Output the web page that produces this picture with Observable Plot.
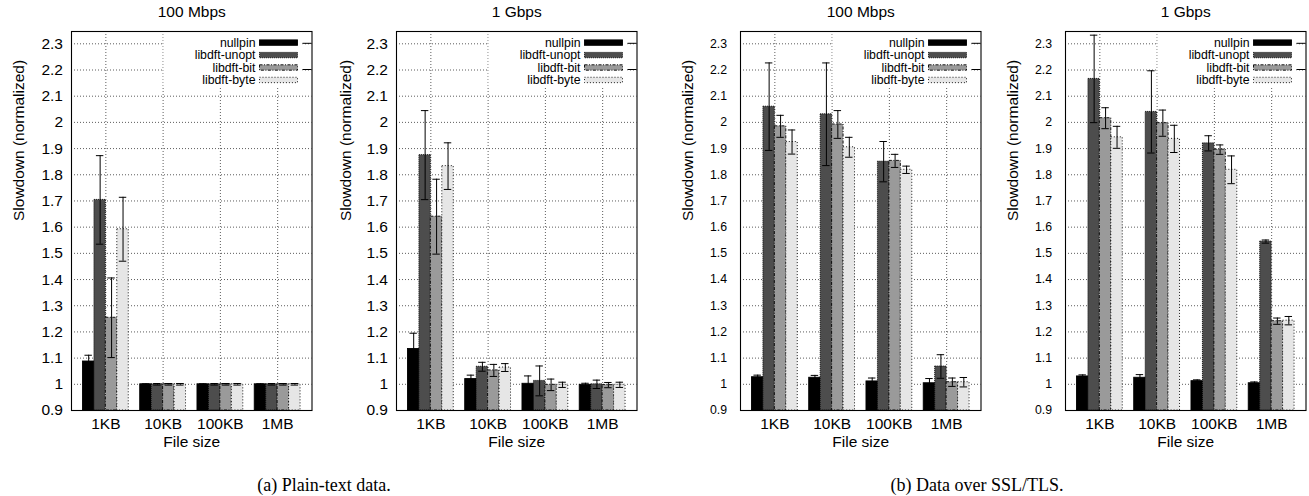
<!DOCTYPE html>
<html><head><meta charset="utf-8">
<script src="https://cdn.jsdelivr.net/npm/d3@7"></script>
<script src="https://cdn.jsdelivr.net/npm/@observablehq/plot@0.6"></script>
<style>
body{margin:0;background:#fff;width:1309px;height:496px;position:relative;overflow:hidden;font-family:"Liberation Sans",Arial,sans-serif;}
.panel{position:absolute;top:0;}
.caption{position:absolute;font-family:"Liberation Serif","Times New Roman",serif;font-size:18px;transform:translate(-50%,-50%);white-space:nowrap;color:#000;}
</style></head><body>
<div id="root"></div>
<script>
// ---- data ----
const fileSizes = ["1KB", "10KB", "100KB", "1MB"];
const seriesNames = ["nullpin", "libdft-unopt", "libdft-bit", "libdft-byte"];
const panelTitles = ["100 Mbps", "1 Gbps", "100 Mbps", "1 Gbps"];
const captions = ["(a) Plain-text data.", "(b) Data over SSL/TLS."];
const yTicks = [0.9, 1.0, 1.1, 1.2, 1.3, 1.4, 1.5, 1.6, 1.7, 1.8, 1.9, 2.0, 2.1, 2.2, 2.3];
const yLabel = "Slowdown (normalized)";
const xLabel = "File size";

// rows = series (nullpin, unopt, bit, byte), columns = file sizes
const plain100Mean = [
  [1.087, 1.000, 1.000, 1.000],
  [1.704, 1.000, 1.000, 1.000],
  [1.254, 1.000, 1.000, 1.000],
  [1.592, 1.000, 1.000, 1.000]
];
const plain100Err = [
  [0.024, 0.002, 0.002, 0.002],
  [0.169, 0.003, 0.003, 0.003],
  [0.152, 0.003, 0.003, 0.003],
  [0.122, 0.003, 0.003, 0.003]
];
const plain1gMean = [
  [1.135, 1.020, 1.002, 0.998],
  [1.875, 1.067, 1.013, 1.000],
  [1.640, 1.053, 0.998, 0.997],
  [1.833, 1.064, 0.998, 0.998]
];
const plain1gErr = [
  [0.060, 0.015, 0.030, 0.006],
  [0.170, 0.017, 0.057, 0.016],
  [0.143, 0.023, 0.022, 0.010],
  [0.089, 0.015, 0.010, 0.010]
];
const ssl100Mean = [
  [1.027, 1.025, 1.011, 1.004],
  [2.060, 2.031, 1.850, 1.068],
  [1.985, 1.992, 1.853, 1.008],
  [1.925, 1.905, 1.819, 1.008]
];
const ssl100Err = [
  [0.008, 0.009, 0.013, 0.018],
  [0.167, 0.196, 0.077, 0.045],
  [0.042, 0.053, 0.025, 0.016],
  [0.046, 0.038, 0.014, 0.018]
];
const ssl1gMean = [
  [1.030, 1.025, 1.012, 1.004],
  [2.166, 2.040, 1.920, 1.545],
  [2.016, 1.997, 1.896, 1.241],
  [1.943, 1.937, 1.819, 1.243]
];
const ssl1gErr = [
  [0.006, 0.012, 0.005, 0.005],
  [0.167, 0.157, 0.029, 0.006],
  [0.040, 0.050, 0.018, 0.012],
  [0.042, 0.052, 0.053, 0.016]
];

// ---- styles / layout ----
const seriesFill = ["#000000", "#4d4d4d", "#9a9a9a", "#e6e6e6"];
const seriesDash = [null, "1,1", "3,1.5,1,1.5", "1,2"];
const yDomain = [0.9, 2.347];
const xDomain = [-0.6, 3.6];
const barWidth = 0.2;
const capHalf = 0.065;
const MT = 31, MB = 46, ML = 70, MR = 3, FW = 240.5, FH = 379;
const FONT = "Liberation Sans, Arial, Helvetica, sans-serif";

const root = document.getElementById("root");

function drawPanel(means, errs, title, frameLeft, yTickFont, yTickPad, yLabelDx) {
  const rows = [];
  seriesNames.forEach((s, j) => fileSizes.forEach((f, i) =>
    rows.push({s, j, i, v: means[j][i], e: errs[j][i]})));
  const bx = d => d.i + (d.j - 2) * barWidth;
  const cx = d => bx(d) + barWidth / 2;

  const marks = [
    Plot.ruleY(yTicks, {stroke: "#333", strokeWidth: 0.8, strokeDasharray: "1,2"}),
    Plot.ruleX([0, 1, 2, 3], {stroke: "#333", strokeWidth: 0.8, strokeDasharray: "1,2"})
  ];
  seriesNames.forEach((s, j) => {
    marks.push(Plot.rect(rows.filter(d => d.j === j), {
      x1: bx, x2: d => bx(d) + barWidth,
      y1: () => yDomain[0], y2: "v",
      fill: seriesFill[j], stroke: "#000", strokeWidth: 0.9,
      strokeDasharray: seriesDash[j]
    }));
  });
  marks.push(
    Plot.ruleX(rows, {x: cx, y1: d => d.v - d.e, y2: d => d.v + d.e, stroke: "#000", strokeWidth: 1}),
    Plot.ruleY(rows, {y: d => d.v + d.e, x1: d => cx(d) - capHalf, x2: d => cx(d) + capHalf, stroke: "#000", strokeWidth: 1}),
    Plot.ruleY(rows, {y: d => d.v - d.e, x1: d => cx(d) - capHalf, x2: d => cx(d) + capHalf, stroke: "#000", strokeWidth: 1}),
    Plot.frame({stroke: "#000", strokeWidth: 1.1}),
    Plot.axisY({ticks: yTicks, tickSize: 0, tickPadding: yTickPad, fontSize: yTickFont,
      tickFormat: d => String(+d.toFixed(1)), label: null}),
    Plot.axisX({ticks: [0, 1, 2, 3], tickSize: 0, tickPadding: 7.5, fontSize: 15.5,
      tickFormat: i => fileSizes[i], label: null}),
    Plot.text([title], {text: d => d, frameAnchor: "top", dy: -19, fontSize: 15.5, lineAnchor: "middle"}),
    Plot.text([xLabel], {text: d => d, frameAnchor: "bottom", dy: 32, fontSize: 15.5, lineAnchor: "middle"}),
    Plot.text([yLabel], {text: d => d, frameAnchor: "left", rotate: -90, dx: yLabelDx, fontSize: 15.5})
  );

  const plot = Plot.plot({
    width: ML + FW + MR, height: MT + FH + MB,
    marginLeft: ML, marginRight: MR, marginTop: MT, marginBottom: MB,
    x: {domain: xDomain, axis: null},
    y: {domain: yDomain, axis: null},
    style: {fontFamily: FONT, fontSize: "15.5px", color: "#000", background: "white", overflow: "visible"},
    marks
  });

  // legend (key box, gnuplot style, top-right inside the frame)
  const svg = d3.select(plot);
  const ys = plot.scale("y");
  const fr = ML + FW;
  const g = svg.append("g");
  const boxTop = MT + 3, boxBot = MT + 55, boxL = fr - 148, boxR = fr - 9;
  g.append("rect").attr("x", boxL).attr("y", boxTop).attr("width", boxR - boxL).attr("height", boxBot - boxTop).attr("fill", "white");
  yTicks.forEach(t => {
    const py = ys.apply(t);
    if (py >= boxTop && py <= boxBot) {
      g.append("line").attr("x1", fr - 9).attr("x2", fr).attr("y1", py).attr("y2", py).attr("stroke", "#000").attr("stroke-width", 1);
    }
  });
  seriesNames.forEach((s, j) => {
    const y = MT + 11.6 + j * 12.45;
    g.append("text").attr("x", fr - 56).attr("y", y).attr("text-anchor", "end")
      .attr("dy", "0.35em").attr("font-size", 12.3).attr("font-family", FONT).attr("fill", "#000").text(s);
    g.append("rect").attr("x", fr - 52).attr("y", y - 2.7).attr("width", 38).attr("height", 5.4)
      .attr("fill", seriesFill[j]).attr("stroke", "#000").attr("stroke-width", 0.9)
      .attr("stroke-dasharray", seriesDash[j]);
  });

  const div = document.createElement("div");
  div.className = "panel";
  div.style.left = (frameLeft - ML) + "px";
  div.appendChild(plot);
  root.appendChild(div);
}

drawPanel(plain100Mean, plain100Err, panelTitles[0], 70.7, 15.5, 8.5, -52.5);
drawPanel(plain1gMean, plain1gErr, panelTitles[1], 395.8, 15.5, 8.5, -50.5);
drawPanel(ssl100Mean, ssl100Err, panelTitles[2], 739.6, 12.3, 13.5, -52);
drawPanel(ssl1gMean, ssl1gErr, panelTitles[3], 1064.8, 12.3, 13.5, -52.3);

[[captions[0], 324], [captions[1], 977]].forEach(([t, x]) => {
  const c = document.createElement("div");
  c.className = "caption";
  c.style.left = x + "px";
  c.style.top = "485px";
  c.textContent = t;
  root.appendChild(c);
});
</script>
</body></html>
